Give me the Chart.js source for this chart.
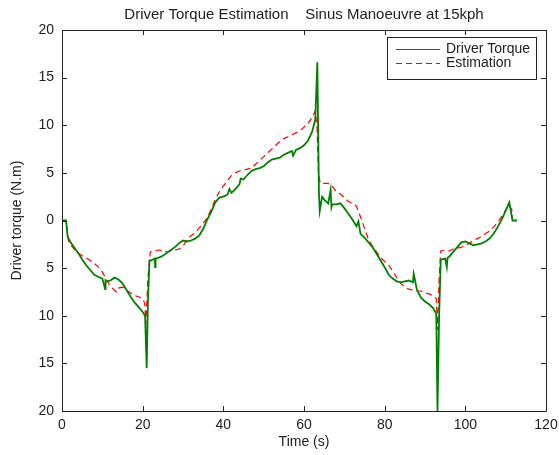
<!DOCTYPE html>
<html>
<head>
<meta charset="utf-8">
<script src="https://cdn.jsdelivr.net/npm/chart.js@4"></script>
<style>
html,body{margin:0;padding:0;background:#fff;}
#wrap{width:559px;height:455px;}
</style>
</head>
<body>
<div id="wrap"><canvas id="c" width="559" height="455"></canvas></div>
<script>
const chartTitle = 'Driver Torque Estimation    Sinus Manoeuvre at 15kph';
const xAxisTitle = 'Time (s)';
const yAxisTitle = 'Driver torque (N.m)';
const seriesNames = ['Driver Torque', 'Estimation'];
const xTicks = [0, 20, 40, 60, 80, 100, 120];
const yTicks = [-20, -15, -10, -5, 0, 5, 10, 15, 20];

const torqueTime = [0,1,1.4,2,3,4,5,6,7,8,9,10,10.7,10.8,11,12,13,14,15,16,17,18,19,20,20.6,21.0,21.3,21.7,22,23,23.1,23.2,24,25,26,27,28,29,30,31,32,33,34,35,36,37,38,39,40,41,41.5,42,43,44,44.3,45,46,47,48,49,50,51,52,53,54,55,56,57,57.3,58,59,60,61,62,62.8,63.3,63.7,63.9,64.5,65,66,66.6,66.8,67,68,69,70,71,72,73,73.5,74,75,76,77,78,79,80,81,82,83,84,85,86,87,87.2,88,89,90,91,92,92.8,93.1,93.5,93.9,94,95,95.4,95.6,96,97,98,99,100,101,102,103,104,105,106,107,108,109,110,110.9,111.7,112.8];
const torqueValue = [0,0,-1.7,-2.2,-2.8,-3.4,-4.1,-4.7,-5.2,-5.7,-5.9,-6.1,-7.2,-6.3,-6.4,-6.3,-6.0,-6.2,-6.6,-7.3,-8.0,-8.6,-9.1,-9.6,-10.0,-15.5,-8.5,-4.2,-4.2,-4.0,-4.9,-4.0,-3.9,-3.7,-3.4,-3.1,-2.8,-2.4,-2.1,-2.2,-2.1,-1.9,-1.6,-0.9,0.1,0.9,1.9,2.4,2.5,2.7,3.3,2.9,3.3,3.8,4.4,4.3,4.8,5.2,5.4,5.5,5.7,6.1,6.4,6.5,6.6,6.9,7.1,7.3,6.8,7.4,7.6,7.9,8.4,9.3,10.6,16.6,3.0,1.0,2.5,2.2,1.8,3.2,1.4,1.7,1.7,1.8,1.3,0.7,0.1,-0.6,-0.1,-1.4,-1.8,-2.3,-2.8,-3.5,-4.2,-4.9,-5.7,-6.1,-6.4,-6.5,-6.4,-6.3,-6.5,-5.6,-7.3,-8.1,-8.5,-8.8,-9.2,-9.8,-20,-10,-4.2,-4.1,-4.0,-4.9,-3.9,-3.8,-3.3,-2.8,-2.3,-2.2,-2.4,-2.6,-2.5,-2.4,-2.2,-1.9,-1.4,-0.7,0.1,1.0,1.9,0,0];

const estTime = [0,1,1.6,2,3,4,5,6,7,8,9,10,11,12,13,13.5,14,15,16,17,18,19,20,20.5,20.8,21.3,21.9,23,24,25,26,27,28,29,30,31,32,33,34,35,36,37,38,39,40,41,42,43,44,45,46,47,48,49,50,51,52,53,54,55,56,57,58,59,60,61,62,62.8,63.2,63.6,64,65,66,67,68,69,70,71,72,73,74,75,76,77,78,79,80,81,82,83,84,85,86,87,88,89,90,91,92,92.8,93.1,93.5,93.9,95,96,97,98,99,100,101,102,103,104,105,106,107,108,109,110,110.6,111.5,111.7];
const estValue = [0,0,-2.1,-2.5,-3.0,-3.4,-3.7,-3.9,-4.2,-4.5,-4.9,-5.4,-6.2,-6.9,-7.3,-7.5,-7.1,-7.0,-7.3,-7.6,-7.9,-8.0,-8.2,-8.7,-10.8,-6.0,-3.3,-3.2,-3.1,-3.2,-3.3,-3.2,-3.1,-3.0,-2.7,-2.0,-1.6,-1.3,-0.8,-0.3,0.3,1.2,2.2,3.0,3.6,4.2,4.7,5.0,5.2,5.3,5.4,5.5,5.9,6.3,6.7,7.1,7.5,7.9,8.3,8.6,8.8,9.0,9.2,9.4,9.8,10.2,10.8,11.5,10.0,5.0,3.9,3.9,3.9,3.6,3.0,2.8,2.4,2.0,1.8,1.5,0.4,-0.8,-2.0,-2.7,-3.3,-3.9,-4.3,-4.7,-5.3,-6.0,-6.6,-7.0,-7.2,-7.3,-7.4,-7.4,-7.6,-7.7,-7.9,-8.2,-11.5,-6.0,-3.2,-3.1,-3.2,-3.0,-2.9,-2.8,-2.6,-2.4,-2.1,-1.9,-1.7,-1.4,-1.1,-0.7,-0.2,0.4,1.1,1.6,1.2,0];

const GREEN = 'rgb(0,128,0)';
const RED = 'rgb(255,0,0)';
const INK = '#222';
const FONT = '"Liberation Sans", Arial, Helvetica, sans-serif';

const toPts = (ts, vs) => ts.map((t, i) => ({x: t, y: vs[i]}));

const frame = {
  id: 'frame',
  afterDraw(chart) {
    const {ctx, chartArea: a, scales: {x, y}} = chart;
    ctx.save();
    ctx.strokeStyle = INK;
    ctx.lineWidth = 1;
    ctx.beginPath();
    ctx.rect(Math.round(a.left) + 0.5, Math.round(a.top) + 0.5, Math.round(a.right - a.left), Math.round(a.bottom - a.top));
    ctx.stroke();
    const tl = 5;
    ctx.beginPath();
    xTicks.forEach(v => {
      const px = Math.round(x.getPixelForValue(v)) + 0.5;
      ctx.moveTo(px, a.bottom); ctx.lineTo(px, a.bottom - tl);
      ctx.moveTo(px, a.top); ctx.lineTo(px, a.top + tl);
    });
    yTicks.forEach(v => {
      const py = Math.round(y.getPixelForValue(v)) + 0.5;
      ctx.moveTo(a.left, py); ctx.lineTo(a.left + tl, py);
      ctx.moveTo(a.right, py); ctx.lineTo(a.right - tl, py);
    });
    ctx.stroke();

    // legend
    const bx = 387.5, by = 37.5, bw = 149, bh = 42;
    ctx.fillStyle = '#fff';
    ctx.fillRect(bx, by, bw, bh);
    ctx.strokeStyle = INK;
    ctx.strokeRect(bx, by, bw, bh);
    const rows = [49, 63];
    chart.data.datasets.forEach((ds, i) => {
      ctx.beginPath();
      ctx.strokeStyle = ds.borderColor;
      ctx.lineWidth = 1;
      ctx.setLineDash(ds.borderDash || []);
      ctx.moveTo(396, rows[i] + 0.5);
      ctx.lineTo(440, rows[i] + 0.5);
      ctx.stroke();
      ctx.setLineDash([]);
      ctx.fillStyle = INK;
      ctx.font = '14px ' + FONT;
      ctx.textAlign = 'left';
      ctx.textBaseline = 'middle';
      ctx.fillText(ds.label, 446, rows[i]);
    });
    ctx.restore();
  }
};

new Chart(document.getElementById('c'), {
  type: 'line',
  data: {
    datasets: [
      {label: seriesNames[0], data: toPts(torqueTime, torqueValue), borderColor: GREEN, borderWidth: 1.8, pointRadius: 0, tension: 0, fill: false},
      {label: seriesNames[1], data: toPts(estTime, estValue), borderColor: RED, borderWidth: 1.2, borderDash: [6, 4], pointRadius: 0, tension: 0, fill: false}
    ]
  },
  options: {
    responsive: false,
    animation: false,
    layout: {padding: {left: 0, right: 0, top: 0, bottom: 0}},
    plugins: {
      legend: {display: false},
      tooltip: {enabled: false},
      title: {display: true, fullSize: false, text: chartTitle, color: INK, font: {family: FONT, size: 15, weight: 'normal'}, padding: {top: 5.5, bottom: 6.5}}
    },
    scales: {
      x: {
        type: 'linear', min: 0, max: 120,
        afterFit(s) { s.height = 44; s.paddingRight = 13; s.paddingLeft = 0; },
        afterBuildTicks(s) { s.ticks = xTicks.map(v => ({value: v})); },
        grid: {display: false, drawTicks: false},
        border: {display: false},
        ticks: {color: INK, font: {family: FONT, size: 14}, padding: 6, maxRotation: 0},
        title: {display: true, text: xAxisTitle, color: INK, font: {family: FONT, size: 14}, padding: {top: 0, bottom: 4.6}}
      },
      y: {
        type: 'linear', min: -20, max: 20,
        afterFit(s) { s.width = 62; },
        afterBuildTicks(s) { s.ticks = yTicks.map(v => ({value: v})); },
        grid: {display: false, drawTicks: false},
        border: {display: false},
        ticks: {color: INK, font: {family: FONT, size: 14}, padding: 8, callback: v => String(Math.abs(v))},
        title: {display: true, text: yAxisTitle, color: INK, font: {family: FONT, size: 14}, padding: {top: 9, bottom: 0}}
      }
    }
  },
  plugins: [frame]
});
</script>
</body>
</html>
